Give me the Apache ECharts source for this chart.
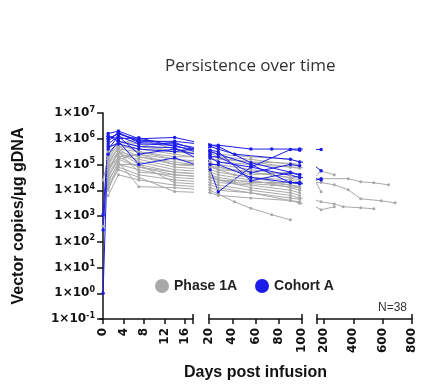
<!DOCTYPE html>
<html>
<head>
<meta charset="utf-8">
<title>Persistence over time</title>
<script src="https://cdn.jsdelivr.net/npm/echarts@6/dist/echarts.min.js"></script>
<style>
  html, body { margin: 0; padding: 0; background: #fff; }
  #main { width: 423px; height: 386px; }
</style>
</head>
<body>
<div id="main"></div>
<script>
// sampling days (one column per day), values are log10(vector copies / ug gDNA)
var days = [0, 1, 3, 7, 14, 21, 28, 42, 56, 74, 90, 98, 180, 270, 330, 365, 450, 540, 590, 640, 685];
var _ = null;

// Phase 1A patients (gray)
var phase1A = [
  [_, 5.5, 5.8, 6.0, 5.6, 5.5, 5.4, _, 5.3, _, 5.2, 5.1, _, _, _, _, _, _, _, _, _],
  [4.4, 5.2, 5.6, 5.5, 5.3, 5.3, 5.1, _, 5.0, _, 4.9, 4.85, _, _, _, _, _, _, _, _, _],
  [2.6, 4.8, 5.5, 5.3, 5.0, 4.9, 4.8, 4.6, 4.5, _, 4.4, 4.3, 4.75, 4.6, _, _, _, _, _, _, _],
  [_, 4.5, 5.2, 5.4, 5.2, 5.0, 5.0, _, 4.8, _, 4.6, 4.5, 4.45, _, _, 4.45, 4.33, 4.29, _, 4.21, _],
  [_, 4.0, 5.0, 5.0, 4.7, 4.6, 4.5, 4.4, 4.3, _, 4.3, 4.25, 4.3, 4.21, _, 4.02, 3.67, _, 3.59, _, 3.51],
  [_, 4.2, 4.9, 4.6, 4.4, 4.3, 4.2, _, 4.0, _, 3.8, 3.7, 3.55, 3.47, 3.36, _, 3.32, 3.28, _, _, _],
  [_, 4.3, 5.1, 4.14, 4.1, 4.0, 3.85, 3.55, 3.3, 3.05, 2.85, _, _, _, _, _, _, _, _, _, _],
  [_, 3.8, 4.6, 4.4, 4.2, 4.1, 4.0, _, 3.9, _, 3.6, 3.5, 3.24, 3.36, _, _, _, _, _, _, _],
  [_, 5.0, 5.7, 5.6, 5.4, 5.2, 5.2, _, 5.1, _, 4.9, 4.9, 3.94, _, _, _, _, _, _, _, _],
  [_, 5.3, 5.9, 5.7, 5.5, 5.45, 5.3, _, 5.2, _, 5.0, 4.95, _, _, _, _, _, _, _, _, _],
  [_, 4.9, 5.4, 5.2, 4.9, 4.8, 4.7, _, 4.5, _, 4.2, 4.1, _, _, _, _, _, _, _, _, _],
  [_, 4.6, 5.3, 4.9, 4.6, 4.5, 4.4, _, 4.1, _, 3.9, 3.8, _, _, _, _, _, _, _, _, _],
  [_, 5.1, 5.6, 5.1, 4.8, 4.7, 4.6, _, 4.4, _, 4.1, 4.0, _, _, _, _, _, _, _, _, _],
  [_, 4.4, 5.0, 4.8, 4.5, 4.4, 4.3, _, 4.2, _, 4.0, 3.9, _, _, _, _, _, _, _, _, _],
  [_, 5.2, 5.8, 5.5, 5.2, 5.1, 4.9, _, 4.7, _, 4.5, 4.5, _, _, _, _, _, _, _, _, _],
  [_, 4.7, 5.5, 5.0, 4.3, 4.2, 4.1, _, 3.9, _, 3.7, 3.65, _, _, _, _, _, _, _, _, _],
  [_, 5.4, 5.7, 5.3, 5.1, 4.9, 4.9, _, 4.6, _, 4.7, 4.6, _, _, _, _, _, _, _, _, _],
  [_, 4.1, 4.8, 4.5, 3.95, 3.9, 3.8, _, 3.7, _, 3.6, 3.55, _, _, _, _, _, _, _, _, _],
  [_, 5.0, 5.5, 4.7, 4.6, 4.5, 4.4, 4.3, _, 4.2, _, 4.1, _, _, _, _, _, _, _, _, _],
  [_, 4.8, 5.3, 5.4, 5.0, 5.0, 4.8, _, 4.7, 4.6, _, 4.4, _, _, _, _, _, _, _, _, _],
  [_, 5.6, 5.9, 5.8, 5.5, 5.35, 5.25, _, 5.1, _, 5.05, 5.0, _, _, _, _, _, _, _, _, _],
  [_, 4.5, 5.2, 4.9, 4.7, 4.6, 4.4, _, 4.35, _, 4.2, 4.15, _, _, _, _, _, _, _, _, _]
];

// Cohort A patients (blue)
var cohortA = [
  [0, 6.2, 6.3, 6.0, 6.05, 5.75, 5.75, _, 5.6, 5.6, _, 5.6, 5.58, _, _, _, _, _, _, _, _],
  [3.05, 6.0, 6.2, 5.9, 5.9, 5.75, 5.7, _, 5.07, _, 4.7, 4.6, _, _, _, _, _, _, _, _, _],
  [2.46, 5.8, 6.1, 5.8, 5.75, 5.3, 5.3, _, 4.68, _, 5.0, 4.95, _, _, _, _, _, _, _, _, _],
  [_, 5.4, 5.9, 5.0, 5.26, 4.8, 3.94, _, 4.9, _, 5.58, 5.55, _, _, _, _, _, _, _, _, _],
  [_, 6.1, 6.0, 6.04, 5.7, 5.5, 5.4, _, 5.0, _, 4.3, 4.3, _, _, _, _, _, _, _, _, _],
  [_, 5.9, 6.25, 5.85, 5.8, 5.55, 5.5, _, 4.37, _, 4.68, 4.6, _, _, _, _, _, _, _, _, _],
  [_, 6.1, 5.9, 5.7, 5.65, 5.0, 5.0, _, 4.5, _, 4.3, 4.25, 4.45, _, _, _, _, _, _, _, _],
  [_, 5.7, 5.8, 5.6, 5.5, 5.7, 5.6, 5.4, _, _, 5.2, 5.1, 4.76, _, _, _, _, _, _, _, _],
  [_, 6.0, 6.2, 5.95, 5.85, 5.4, _, _, _, _, _, _, _, _, _, _, _, _, _, _, _],
  [_, 5.6, 6.1, 5.4, 5.6, 5.25, 5.1, _, 4.9, _, _, 4.5, 4.4, _, _, _, _, _, _, _, _]
];

// broken x axis: three segments
var segMin = [-0.6, 20, 152];
var segMax = [17.6, 100, 800];
var segTicks = [[0, 4, 8, 12, 16], [20, 40, 60, 80, 100], [200, 400, 600, 800]];
var yTicks = [-1, 0, 1, 2, 3, 4, 5, 6, 7];

var GRAY = '#a9a9a9';
var BLUE = '#1c1ce8';
var AXIS = '#111';
var labelFont = 'DejaVu Sans';

var myChart = echarts.init(document.getElementById('main'));

var grids = [
  { left: 100, top: 113, width: 93, height: 206 },
  { left: 209, top: 113, width: 93, height: 206 },
  { left: 317, top: 113, width: 95, height: 206 }
];

var xAxes = [];
var yAxes = [];
for (var g = 0; g < 3; g++) {
  var ends = g === 0 ? [segMax[0]] : [segMin[g], segMax[g]];
  xAxes.push({
    type: 'value', gridIndex: g, min: segMin[g], max: segMax[g],
    axisLine: { show: true, onZero: false, lineStyle: { color: AXIS, width: 1.5 } },
    axisTick: { show: true, length: 5, lineStyle: { color: AXIS, width: 1.5 },
                customValues: segTicks[g].concat(ends) },
    axisLabel: { rotate: 90, margin: 9, customValues: segTicks[g], color: '#111',
                 fontFamily: labelFont, fontWeight: 'bold', fontSize: 12 },
    splitLine: { show: false },
    name: g === 1 ? 'Days post infusion' : '',
    nameLocation: 'middle', nameGap: 46,
    nameTextStyle: { fontFamily: 'Liberation Sans', fontWeight: 'bold', fontSize: 16, color: '#111' }
  });
}
// end caps pointing up at the break of each segment
for (var g2 = 0; g2 < 3; g2++) {
  var caps = g2 === 0 ? [segMax[0]] : [segMin[g2], segMax[g2]];
  xAxes.push({
    type: 'value', gridIndex: g2, min: segMin[g2], max: segMax[g2], position: 'bottom',
    axisLine: { show: false, onZero: false },
    axisTick: { show: true, inside: true, length: 5, lineStyle: { color: AXIS, width: 1.5 }, customValues: caps },
    axisLabel: { show: false }, splitLine: { show: false }
  });
}
for (var h = 0; h < 3; h++) {
  yAxes.push({
    type: 'value', gridIndex: h, min: -1, max: 7, interval: 1, show: h === 0,
    axisLine: { show: true, lineStyle: { color: AXIS, width: 1.5 } },
    axisTick: { show: true, length: 6, lineStyle: { color: AXIS, width: 1.5 } },
    axisLabel: {
      margin: 5, customValues: yTicks,
      formatter: function (v) { return '{b|1×10}{s|' + (v < 0 ? '-' + (-v) : v) + '}'; },
      rich: {
        b: { fontFamily: labelFont, fontWeight: 'bold', fontSize: 12, color: '#111' },
        s: { fontFamily: labelFont, fontWeight: 'bold', fontSize: 8, color: '#111', padding: [0, 0, 7, 0] }
      }
    },
    splitLine: { show: false },
    name: h === 0 ? 'Vector copies/μg gDNA' : '',
    nameLocation: 'middle', nameGap: 73,
    nameTextStyle: { fontFamily: 'Liberation Sans', fontWeight: 'bold', fontSize: 16, color: '#111' }
  });
}

var series = [];
function addGroup(rows, name, color, size) {
  rows.forEach(function (row) {
    var pts = [];
    row.forEach(function (v, i) { if (v !== null) pts.push([days[i], v]); });
    for (var s = 0; s < 3; s++) {
      series.push({
        name: name, type: 'line', xAxisIndex: s, yAxisIndex: s,
        data: pts, clip: true, symbol: 'circle', symbolSize: size,
        itemStyle: { color: color }, lineStyle: { color: color, width: 1 },
        silent: true, animation: false
      });
    }
  });
}
addGroup(phase1A, 'Phase 1A', GRAY, 3);
addGroup(cohortA, 'Cohort A', BLUE, 3.5);

var option = {
  backgroundColor: '#fff',
  title: [
    { text: 'Persistence over time', left: 160, top: 53,
      textStyle: { fontFamily: 'Open Sans', fontWeight: 'normal', fontSize: 17, color: '#333' } },
    { text: 'N=38', right: 11, top: 297,
      textStyle: { fontFamily: 'Liberation Sans', fontWeight: 'normal', fontSize: 12, color: '#333' } }
  ],
  legend: {
    data: ['Phase 1A', 'Cohort A'], left: 150, top: 274, icon: 'circle',
    itemWidth: 14, itemHeight: 14, itemGap: 18, selectedMode: false,
    textStyle: { fontFamily: 'Liberation Sans', fontWeight: 'bold', fontSize: 14, color: '#222' }
  },
  grid: grids,
  xAxis: xAxes,
  yAxis: yAxes,
  series: series
};

myChart.setOption(option);
</script>
</body>
</html>
